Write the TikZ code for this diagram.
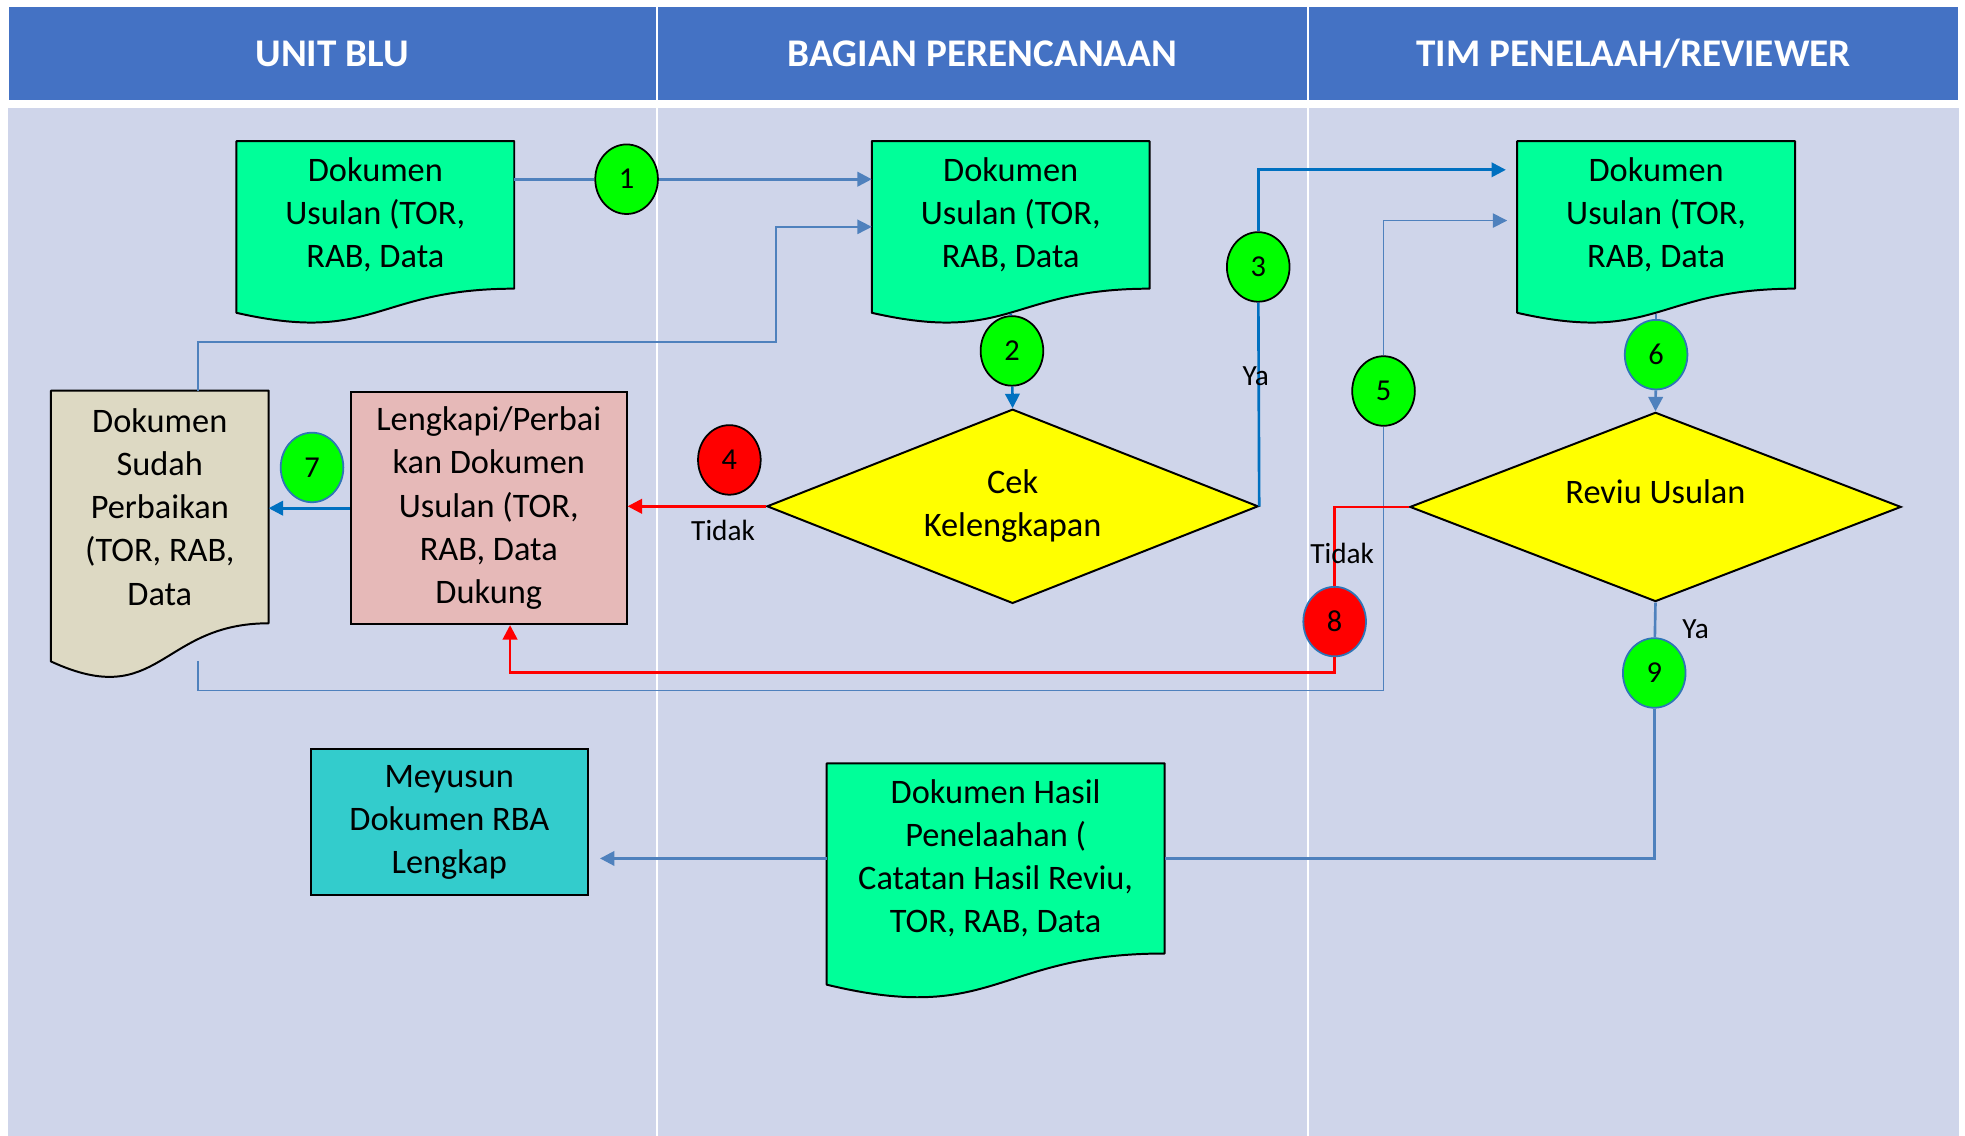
\documentclass[tikz,border=0pt]{standalone}
\usepackage{fontspec}
\setmainfont{Carlito}
\usetikzlibrary{shapes.geometric,arrows.meta}

\definecolor{headblue}{HTML}{4472C4}
\definecolor{lanebg}{HTML}{CFD5EA}
\definecolor{docgreen}{HTML}{00FF99}
\definecolor{dotgreen}{HTML}{00FF00}
\definecolor{cekyellow}{HTML}{FFFF00}
\definecolor{fixpink}{HTML}{E6B9B8}
\definecolor{paperbeige}{HTML}{DDD9C3}
\definecolor{rbateal}{HTML}{33CCCC}
\definecolor{linkblue}{HTML}{4F81BD}
\definecolor{darkblue}{HTML}{0070C0}
\definecolor{ringblue}{HTML}{2E75B6}

\newcommand\bodytxt{\fontsize{15.6}{19.6}\selectfont}
\newcommand\headtxt{\fontsize{17.8}{21}\selectfont\bfseries}
\newcommand\dottxt{\fontsize{13.8}{16}\selectfont}
\newcommand\answertxt{\fontsize{13.3}{16}\selectfont}

\pgfdeclarelayer{lanes}
\pgfdeclarelayer{paper}
\pgfsetlayers{lanes,paper,main}

\newcommand{\docwave}[4]{%
  \begin{pgfonlayer}{paper}
    \draw[fill=#2, line width=0.9pt, line join=round] (#1.north west) -- (#1.north east) -- (#1.south east)
      .. controls (#1.south) and ([yshift=-#4]#1.south) .. ([yshift=-#3]#1.south west) -- cycle;
  \end{pgfonlayer}}

\begin{document}
\begin{tikzpicture}
  [lanehead/.style={rectangle,fill=headblue,draw=white,line width=1pt,text=white,font=\headtxt,minimum height=1.51cm},
   paperbox/.style={rectangle,inner sep=0pt,align=center,font=\bodytxt},
   stepbox/.style={rectangle,draw,line width=0.9pt,inner sep=0pt,align=center,font=\bodytxt},
   check/.style={diamond,draw,fill=cekyellow,line width=0.9pt,inner sep=0pt,shape aspect=2.5,align=center,font=\bodytxt},
   dot/.style={ellipse,draw,line width=0.8pt,fill=dotgreen,minimum width=1.0cm,minimum height=1.11cm,inner sep=0pt,font=\dottxt},
   ringdot/.style={dot,draw=ringblue},
   answer/.style={inner sep=0pt,font=\answertxt},
   link/.style={draw=linkblue,line width=1.2pt,-{Triangle[length=0.23cm,width=0.23cm]}},
   thinlink/.style={link,line width=0.7pt},
   darklink/.style={link,draw=darkblue},
   redlink/.style={link,draw=red}]

  \useasboundingbox (0,0) rectangle (31.36,-18.12);
  \begin{pgfonlayer}{lanes}
    \fill[white] (0,0) rectangle (31.36,-18.12);
    \fill[lanebg] (0.12,-1.73) rectangle (31.26,-18.3);
    \draw[white,line width=1pt] (10.48,-1.73) -- (10.48,-18.3);
    \draw[white,line width=1pt] (20.88,-1.73) -- (20.88,-18.3);
  \end{pgfonlayer}

  \node[lanehead,minimum width=10.36cm] (h1) at (5.30,-0.855) {UNIT BLU};
  \node[lanehead,minimum width=10.40cm] (h2) at (15.68,-0.855) {BAGIAN PERENCANAAN};
  \node[lanehead,minimum width=10.38cm] (h3) at (26.07,-0.855) {TIM PENELAAH/REVIEWER};

  \node[paperbox,minimum width=4.42cm,minimum height=2.34cm] (d1) at (5.99,-3.43) {Dokumen\\Usulan (TOR,\\RAB, Data};
  \docwave{d1}{docgreen}{0.385cm}{0.891cm}
  \node[paperbox,minimum width=4.42cm,minimum height=2.34cm] (d2) at (16.13,-3.43) {Dokumen\\Usulan (TOR,\\RAB, Data};
  \docwave{d2}{docgreen}{0.385cm}{0.891cm}
  \node[paperbox,minimum width=4.42cm,minimum height=2.34cm] (d3) at (26.43,-3.43) {Dokumen\\Usulan (TOR,\\RAB, Data};
  \docwave{d3}{docgreen}{0.385cm}{0.891cm}
  \node[paperbox,minimum width=3.46cm,minimum height=3.70cm] (fixed) at (2.55,-8.09) {Dokumen\\Sudah\\Perbaikan\\(TOR, RAB,\\Data};
  \docwave{fixed}{paperbeige}{0.609cm}{1.410cm}
  \node[paperbox,minimum width=5.38cm,minimum height=3.02cm] (hasil) at (15.89,-13.70) {Dokumen Hasil\\Penelaahan (\\Catatan Hasil Reviu,\\TOR, RAB, Data};
  \docwave{hasil}{docgreen}{0.497cm}{1.151cm}

  \node[stepbox,fill=fixpink,minimum width=4.40cm,minimum height=3.70cm] (fix) at (7.80,-8.11) {Lengkapi/Perbai\\kan Dokumen\\Usulan (TOR,\\RAB, Data\\Dukung};
  \node[stepbox,fill=rbateal,minimum width=4.42cm,minimum height=2.32cm] (rba) at (7.17,-13.12) {Meyusun\\Dokumen RBA\\Lengkap};
  \node[check,minimum width=7.84cm,minimum height=3.10cm] (cek) at (16.16,-8.08) {\raisebox{-0.45cm}{\begin{tabular}{@{}c@{}}Cek\\Kelengkapan\end{tabular}}};
  \node[check,minimum width=7.84cm,minimum height=3.02cm] (reviu) at (26.42,-8.09) {\raisebox{0.5cm}{Reviu Usulan}};

  \node[dot] (s1) at (10.00,-2.86) {1};
  \node[dot] (s2) at (16.15,-5.60) {2};
  \node[dot] (s3) at (20.08,-4.26) {3};
  \node[dot,fill=red] (s4) at (11.64,-7.34) {4};
  \node[dot] (s5) at (22.08,-6.24) {5};
  \node[ringdot] (s6) at (26.43,-5.66) {6};
  \node[ringdot] (s7) at (4.98,-7.46) {7};
  \node[ringdot,fill=red] (s8) at (21.30,-9.92) {8};
  \node[ringdot] (s9) at (26.40,-10.74) {9};

  \draw[link] (d1.east |- s1) -- (s1) -- (d2.west |- s1);
  \draw[thinlink] ([xshift=0.61cm]fixed.north) |- (12.38,-5.46) |- ([yshift=-0.19cm]d2.west);
  \draw[darklink,-] ([yshift=-0.4cm]d2.south) -- (s2);
  \draw[darklink,-] (cek.east) -- (s3);
  \draw[darklink,shorten >=0.18cm] (s3) |- ([yshift=0.72cm]d3.west);
  \draw[thinlink,-] ([xshift=0.61cm,yshift=-0.6cm]fixed.south) |- (s5.south |- 0,-11.02) -- (s5);
  \draw[thinlink,shorten >=0.16cm] (s5) |- ([yshift=-0.09cm]d3.west);
  \draw[link,line width=1pt,-] ([yshift=-0.4cm]d3.south) -- (s6);
  \foreach \from/\to/\kind in {s2/cek/darklink,s6/reviu/link}
    \draw[\kind] (\from) -- (\to.north);
  \draw[redlink] (cek.west) -- (fix.east |- cek.west);
  \draw[darklink] (fix.west) -- (fixed.east |- fix.west);
  \draw[redlink,-] (reviu.west) -| (s8);
  \draw[redlink] (s8) |- ([xshift=0.34cm,yshift=-0.76cm]fix.south) -- ([xshift=0.34cm]fix.south);
  \draw[link,-] (reviu.south) -- (s9);
  \draw[link,-] (s9) |- (hasil.east);
  \draw[link,shorten >=0.18cm] (hasil.west) -- (rba.east |- hasil.west);

  \node[answer] (ya1) at (20.04,-6.00) {Ya};
  \node[answer] (no1) at (11.54,-8.46) {Tidak};
  \node[answer] (no2) at (21.42,-8.84) {Tidak};
  \node[answer] (ya2) at (27.06,-10.04) {Ya};
\end{tikzpicture}
\end{document}
